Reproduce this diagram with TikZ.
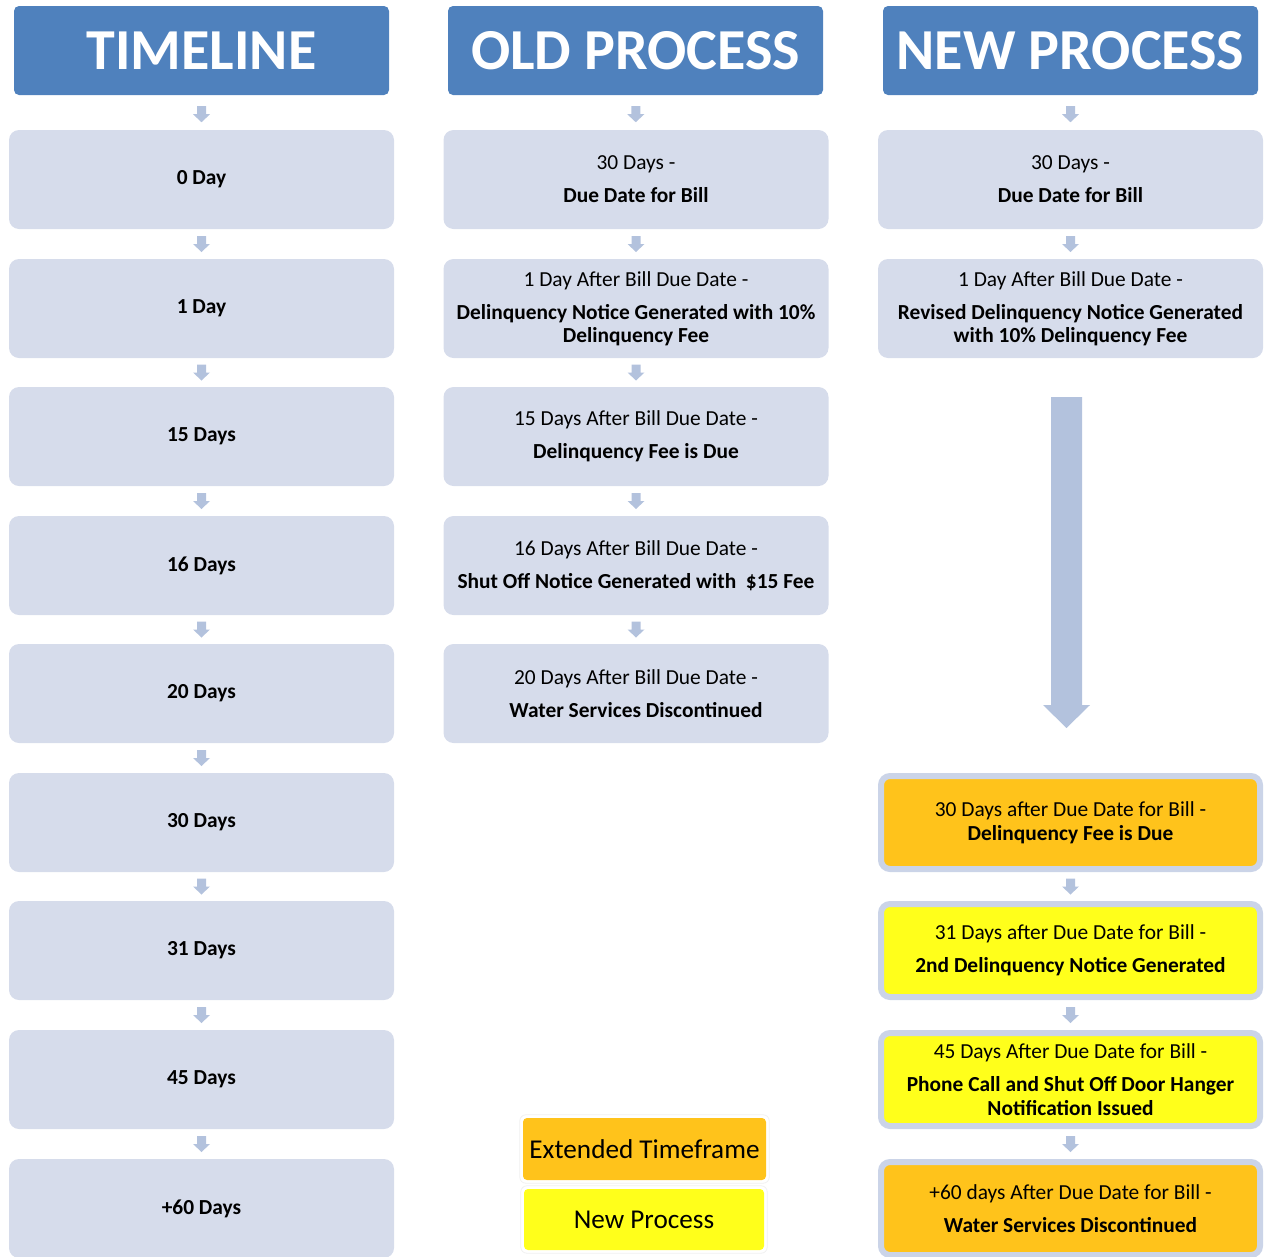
\documentclass[tikz,border=0pt]{standalone}
\usepackage{fontspec}
\setmainfont{Carlito}
\usetikzlibrary{calc}
\definecolor{hdr}{HTML}{4F81BD}
\definecolor{boxfill}{HTML}{D6DCEB}
\definecolor{arr}{HTML}{B3C2DD}
\definecolor{orng}{HTML}{FFC31B}
\definecolor{yell}{HTML}{FFFF1B}
\definecolor{rim}{HTML}{CBD4E8}
\tikzset{
  hdrbox/.style={fill=hdr, rounded corners=5pt, minimum width=375pt, minimum height=89pt,
    text=white, font=\fontsize{58}{60}\selectfont\bfseries, inner sep=0pt},
  tbox/.style={fill=boxfill, rounded corners=10pt, minimum width=385pt, minimum height=99pt,
    font=\fontsize{21.4}{23.5}\selectfont, align=center, inner sep=0pt},
  cbox/.style={tbox, draw=rim, line width=6pt, minimum width=379pt, minimum height=93pt, rounded corners=9pt},
  legbox/.style={rounded corners=4pt, minimum width=243pt, minimum height=62pt,
    font=\fontsize{27.2}{30}\selectfont, inner sep=0pt},
  darr/.pic={\fill[arr] (-4.5,-8) -- (4.5,-8) -- (4.5,0) -- (8.5,0) -- (0,8) -- (-8.5,0) -- (-4.5,0) -- cycle;}
}
\newcommand{\gp}{\\[9.5pt]}
\begin{document}
\begin{tikzpicture}[x=1pt,y=-1pt]
\useasboundingbox (0,0) rectangle (1264,1256);
% headers
\node[hdrbox] (h1) at (201.5,50.5) {TIMELINE};
\node[hdrbox] (h2) at (635.5,50.5) {OLD PROCESS};
\node[hdrbox] (h3) at (1070.5,50.5) {NEW PROCESS};
% timeline
\foreach \i/\t/\y in {1/0 Day/179.5, 2/1 Day/308.5, 3/15 Days/436.5, 4/16 Days/565.5, 5/20 Days/693.5,
  6/30 Days/822.5, 7/31 Days/950.5, 8/45 Days/1079.5, 9/+60 Days/1208.5}{
  \node[tbox, font=\fontsize{21.4}{23.5}\selectfont\bfseries] (t\i) at (201.5,\y) {\t};
}
% old process
\node[tbox] (o1) at (636,179.5) {30 Days -\gp\textbf{Due Date for Bill}};
\node[tbox] (o2) at (636,308.5) {1 Day After Bill Due Date -\gp\textbf{Delinquency Notice Generated with 10\%}\\\textbf{Delinquency Fee}};
\node[tbox] (o3) at (636,436.5) {15 Days After Bill Due Date -\gp\textbf{Delinquency Fee is Due}};
\node[tbox] (o4) at (636,565.5) {16 Days After Bill Due Date -\gp\textbf{Shut Off Notice Generated with\ \ \$15 Fee}};
\node[tbox] (o5) at (636,693.5) {20 Days After Bill Due Date -\gp\textbf{Water Services Discontinued}};
% new process
\node[tbox] (n1) at (1070.5,179.5) {30 Days -\gp\textbf{Due Date for Bill}};
\node[tbox] (n2) at (1070.5,308.5) {1 Day After Bill Due Date -\gp\textbf{Revised Delinquency Notice Generated}\\\textbf{with 10\% Delinquency Fee}};
\node[cbox, fill=orng] (n3) at (1070.5,822.5) {30 Days after Due Date for Bill -\\\textbf{Delinquency Fee is Due}};
\node[cbox, fill=yell] (n4) at (1070.5,950.5) {31 Days after Due Date for Bill -\gp\textbf{2nd Delinquency Notice Generated}};
\node[cbox, fill=yell] (n5) at (1070.5,1079.5) {45 Days After Due Date for Bill -\gp\textbf{Phone Call and Shut Off Door Hanger}\\\textbf{Notification Issued}};
\node[cbox, fill=orng] (n6) at (1070.5,1208.5) {+60 days After Due Date for Bill -\gp\textbf{Water Services Discontinued}};
% legend
\node[legbox, fill=orng] (l1) at (644.5,1149) {Extended Timeframe};
\node[legbox, fill=yell, minimum width=240pt, minimum height=61pt] (l2) at (644,1219.5) {New Process};
\foreach \n in {l1,l2}{
  \draw[gray!12, line width=0.8pt, rounded corners=6pt] ($(\n.south west)+(-3,3)$) rectangle ($(\n.north east)+(3,-3)$);
}
% small arrows
\path ($(h1.south)!0.55!(t1.north)$) pic{darr};
\foreach \a/\b in {t1/t2,t2/t3,t3/t4,t4/t5,t5/t6,t6/t7,t7/t8,t8/t9}{
  \path ($(\a.south)!0.5!(\b.north)$) pic{darr};
}
\path ($(h2.south)!0.55!(o1.north)$) pic{darr};
\foreach \a/\b in {o1/o2,o2/o3,o3/o4,o4/o5}{
  \path ($(\a.south)!0.5!(\b.north)$) pic{darr};
}
\path ($(h3.south)!0.55!(n1.north)$) pic{darr};
\path ($(n1.south)!0.5!(n2.north)$) pic{darr};
\foreach \a/\b in {n3/n4,n4/n5,n5/n6}{
  \path ($(\a.south)!0.5!(\b.north)$) pic{darr};
}
% big arrow
\coordinate (bt) at (1066.5,728);
\fill[arr] ($(bt)+(-15.5,-331)$) -- ($(bt)+(15.5,-331)$) -- ($(bt)+(15.5,-23)$) -- ($(bt)+(23.5,-23)$)
  -- (bt) -- ($(bt)+(-23.5,-23)$) -- ($(bt)+(-15.5,-23)$) -- cycle;
\end{tikzpicture}
\end{document}
